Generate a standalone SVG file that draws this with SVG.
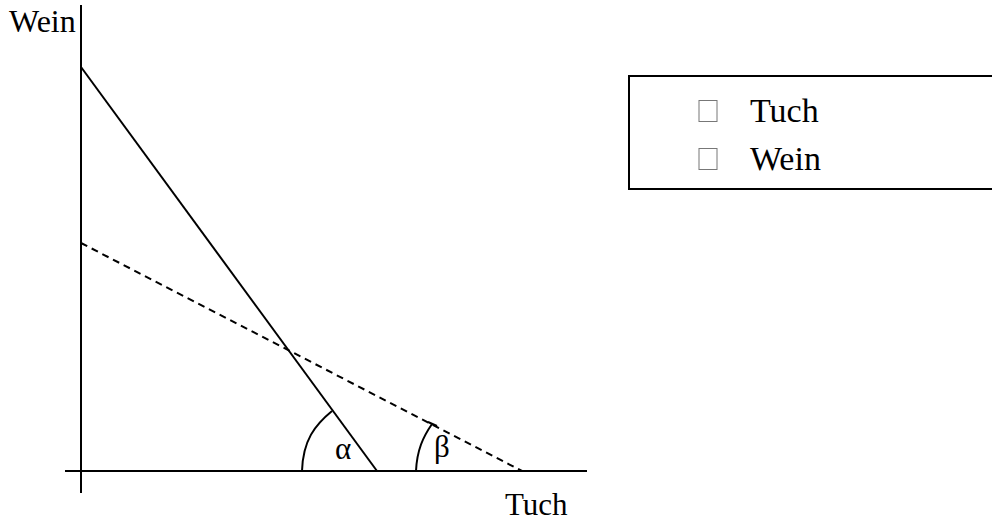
<svg xmlns="http://www.w3.org/2000/svg" width="992" height="522" viewBox="0 0 992 522">
<style>
.t{font-family:"Liberation Serif","Times New Roman",serif;fill:#000}
.ln{stroke:#000;stroke-width:2;fill:none}
.ds{stroke:#000;stroke-width:2;fill:none;stroke-dasharray:7 5}
</style>
<rect width="992" height="522" fill="#fff"/>
<g id="axes">
<line class="ln" x1="81" y1="5" x2="81" y2="493"/>
<line class="ln" x1="65" y1="471" x2="587" y2="471"/>
</g>
<g id="connectors">
<line class="ln" x1="81" y1="67" x2="377" y2="471"/>
<line class="ds" x1="81" y1="243" x2="522" y2="471"/>
<path class="ln" d="M302,471 C303,440 315,425 332,411"/>
<path class="ln" d="M416,471 C417,450 423,437 432,424"/>
<line class="ln" x1="428" y1="422" x2="437" y2="426"/>
</g>
<g id="labels">
<text class="t" x="9" y="32" font-size="32">Wein</text>
<text class="t" x="505" y="515" font-size="31">Tuch</text>
<text class="t" x="335" y="459" font-size="31">α</text>
<text class="t" x="434" y="457" font-size="31">β</text>
</g>
<g id="legend">
<rect x="629" y="76" width="370" height="113" fill="#fff" stroke="#000" stroke-width="2"/>
<rect x="699" y="100.5" width="18" height="21" fill="none" stroke="#777" stroke-width="1"/>
<rect x="699" y="148.5" width="18" height="21" fill="none" stroke="#777" stroke-width="1"/>
<text class="t" x="750" y="122" font-size="34">Tuch</text>
<text class="t" x="750" y="170" font-size="34">Wein</text>
</g>
</svg>
